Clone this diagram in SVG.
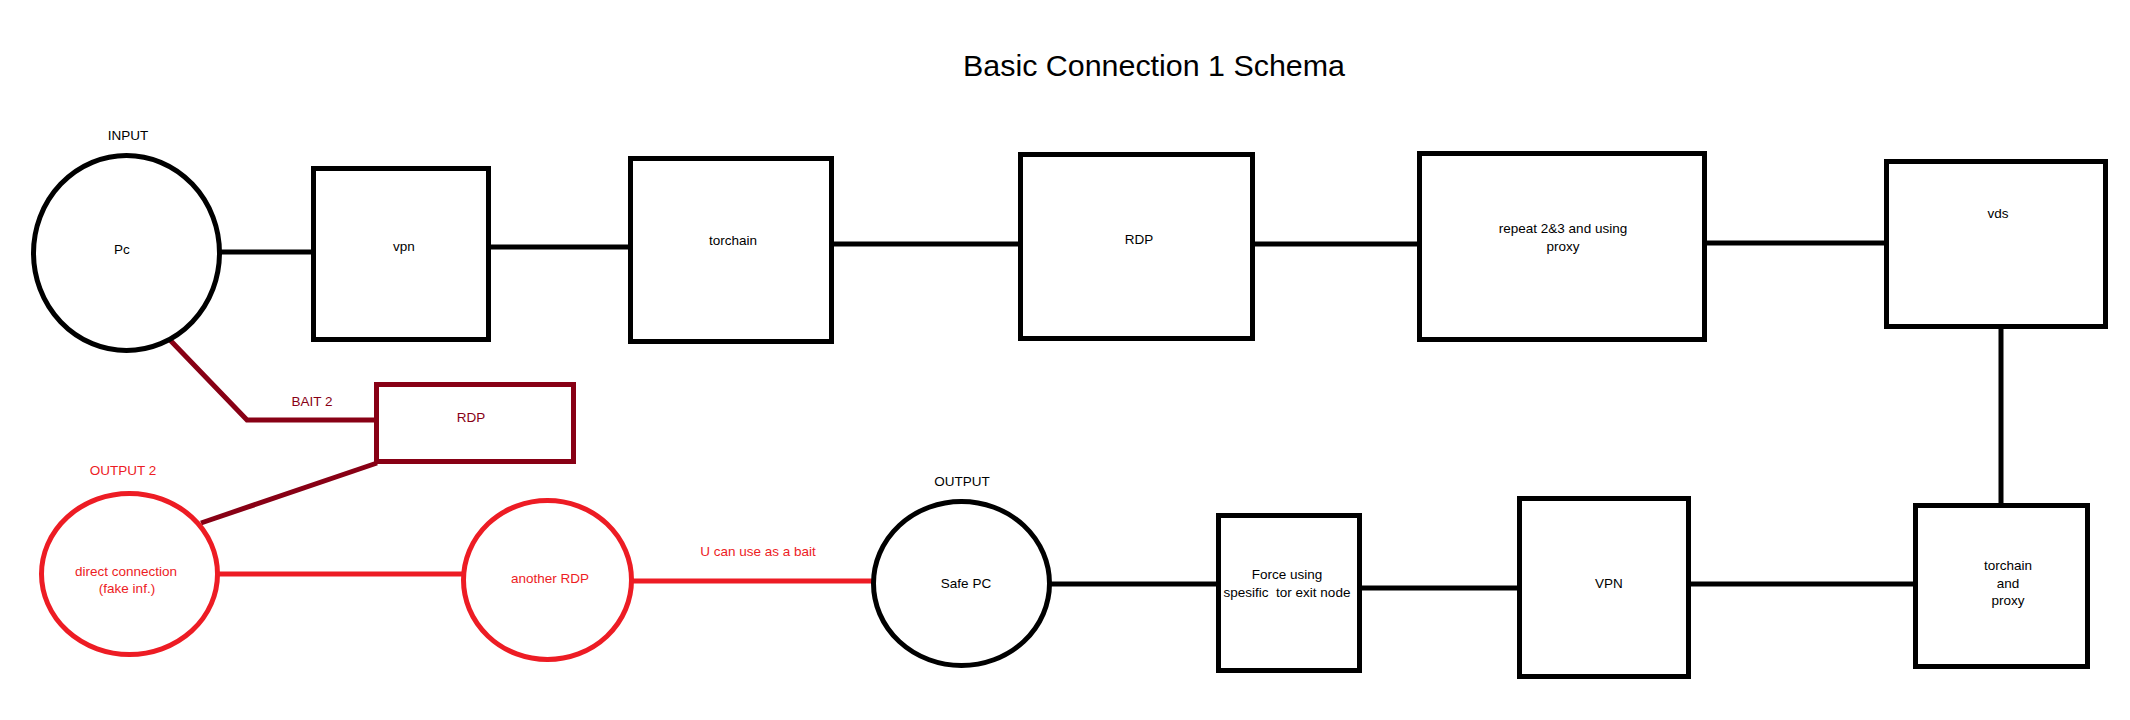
<svg xmlns="http://www.w3.org/2000/svg" width="2130" height="720" viewBox="0 0 2130 720">
<style>
.blk{fill:none;stroke:#000;stroke-width:5}
.drk{fill:none;stroke:#880015;stroke-width:5}
.red{fill:none;stroke:#ED1C24;stroke-width:5}
text{font-family:"Liberation Sans",Arial,sans-serif;font-size:13.5px;text-anchor:middle;white-space:pre}
.tb{fill:#000}
.td{fill:#880015}
.tr{fill:#ED1C24}
.title{font-size:30px}
</style>
<rect x="0" y="0" width="2130" height="720" fill="#fff"/>
<text class="tb title" x="1154" y="76" textLength="382" lengthAdjust="spacingAndGlyphs">Basic Connection 1 Schema</text>
<g id="connectors">
<line class="blk" x1="220" y1="252" x2="313" y2="252"/>
<line class="blk" x1="489" y1="247" x2="631" y2="247"/>
<line class="blk" x1="832" y1="244" x2="1021" y2="244"/>
<line class="blk" x1="1253" y1="244" x2="1420" y2="244"/>
<line class="blk" x1="1705" y1="243" x2="1887" y2="243"/>
<line class="blk" x1="2001" y1="327" x2="2001" y2="506"/>
<line class="blk" x1="1689" y1="584" x2="1916" y2="584"/>
<line class="blk" x1="1360" y1="588" x2="1520" y2="588"/>
<line class="blk" x1="1050" y1="584" x2="1219" y2="584"/>
<polyline class="drk" points="170,340 247,420 377,420"/>
<line class="drk" x1="377" y1="463" x2="201" y2="523"/>
<line class="red" x1="218" y1="574" x2="464" y2="574"/>
<line class="red" x1="632" y1="581" x2="873" y2="581"/>
</g>
<g id="pc">
<ellipse class="blk" cx="126.5" cy="253" rx="93" ry="97.5"/>
<text class="tb" x="128" y="140">INPUT</text>
<text class="tb" x="122" y="254">Pc</text>
</g>
<g id="vpn">
<rect class="blk" x="313.5" y="168.5" width="175" height="171"/>
<text class="tb" x="404" y="251">vpn</text>
</g>
<g id="torchain">
<rect class="blk" x="630.5" y="158.5" width="201" height="183"/>
<text class="tb" x="733" y="245">torchain</text>
</g>
<g id="rdp">
<rect class="blk" x="1020.5" y="154.5" width="232" height="184"/>
<text class="tb" x="1139" y="244">RDP</text>
</g>
<g id="repeat">
<rect class="blk" x="1419.5" y="153.5" width="285" height="186"/>
<text class="tb" x="1563" y="233">repeat 2&amp;3 and using</text>
<text class="tb" x="1563" y="251">proxy</text>
</g>
<g id="vds">
<rect class="blk" x="1886.5" y="161.5" width="219" height="165"/>
<text class="tb" x="1998" y="218">vds</text>
</g>
<g id="torchain-proxy">
<rect class="blk" x="1915.5" y="505.5" width="172" height="161"/>
<text class="tb" x="2008" y="570">torchain</text>
<text class="tb" x="2008" y="588">and</text>
<text class="tb" x="2008" y="605">proxy</text>
</g>
<g id="vpn2">
<rect class="blk" x="1519.5" y="498.5" width="169" height="178"/>
<text class="tb" x="1609" y="588">VPN</text>
</g>
<g id="force">
<rect class="blk" x="1218.5" y="515.5" width="141" height="155"/>
<text class="tb" x="1287" y="579">Force using</text>
<text class="tb" x="1287" y="597">spesific  tor exit node</text>
</g>
<g id="safe-pc">
<ellipse class="blk" cx="961.5" cy="583.5" rx="88" ry="82"/>
<text class="tb" x="962" y="486">OUTPUT</text>
<text class="tb" x="966" y="588">Safe PC</text>
</g>
<g id="rdp-bait">
<rect class="drk" x="376.5" y="384.5" width="197" height="77"/>
<text class="td" x="471" y="422">RDP</text>
<text class="td" x="312" y="406">BAIT 2</text>
</g>
<g id="direct">
<ellipse class="red" cx="129.5" cy="574" rx="88" ry="80.5"/>
<text class="tr" x="123" y="475">OUTPUT 2</text>
<text class="tr" x="126" y="576">direct connection</text>
<text class="tr" x="127" y="593">(fake inf.)</text>
</g>
<g id="another-rdp">
<ellipse class="red" cx="547.5" cy="580" rx="84" ry="79.5"/>
<text class="tr" x="550" y="583">another RDP</text>
</g>
<text class="tr" x="758" y="556">U can use as a bait</text>
</svg>
